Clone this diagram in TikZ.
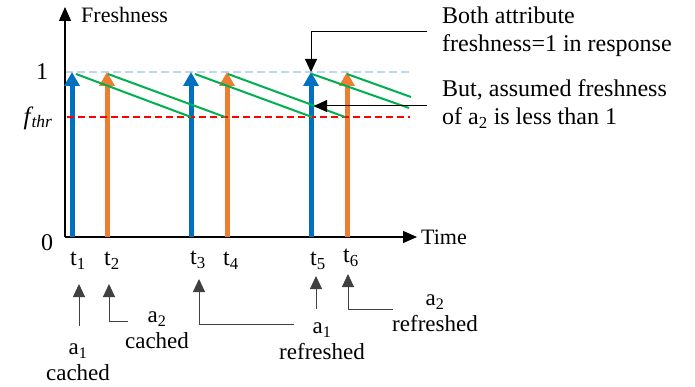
\documentclass[tikz,border=0pt]{standalone}
\usepackage{fontspec}
\setmainfont{Liberation Serif}
\usetikzlibrary{arrows.meta}
\definecolor{cblue}{HTML}{0070C0}
\definecolor{corange}{HTML}{ED7D31}
\definecolor{cgreen}{HTML}{00B050}
\definecolor{cred}{HTML}{FF0000}
\definecolor{clight}{HTML}{BDD7EE}
\definecolor{cgray}{HTML}{404040}
\tikzset{
  axisline/.style={line width=1.2pt,-{Triangle[length=14pt,width=12pt]}},
  barblue/.style={line width=5pt,cblue,-{Triangle[length=14pt,width=15pt]}},
  barorange/.style={line width=5pt,corange,-{Triangle[length=14pt,width=15pt]}},
  decay/.style={line width=2pt,cgreen},
  thr/.style={line width=2pt,cred,dash pattern=on 7pt off 4pt},
  top/.style={line width=2pt,clight,dash pattern=on 8pt off 4pt},
  callout/.style={line width=1pt,cgray,-{Triangle[length=13pt,width=12pt]}},
  ann/.style={line width=1pt,black,-{Triangle[length=13pt,width=12pt]}},
  lbl/.style={inner sep=0pt,align=center,font=\fontsize{23}{26}\selectfont},
  tl/.style={inner sep=0pt,font=\fontsize{24}{24}\selectfont},
  note/.style={inner sep=0pt,align=left,anchor=west,font=\fontsize{24}{28}\selectfont},
}
\begin{document}
\begin{tikzpicture}[x=1pt,y=-1pt,font=\fontsize{22}{24}\selectfont]
\useasboundingbox (0,0) rectangle (695,387);
% reference lines
\coordinate (tl) at (65,72); \coordinate (tr) at (409,72);
\draw[top] (tl) -- (tr);
% axes
\coordinate (O) at (65,237);
\coordinate (ytop) at (65,7);
\coordinate (xend) at (417,237);
\draw[axisline] (O) -- (ytop);
\draw[axisline] (O) -- (xend);
\node[anchor=west,inner sep=0pt] (ylab) at (81,15) {Freshness};
\node[anchor=west,inner sep=0pt] (xlab) at (421,237) {Time};
\node[inner sep=0pt,font=\fontsize{24}{24}\selectfont] (one) at (42,72) {1};
\node[inner sep=0pt,font=\fontsize{24}{24}\selectfont] (zero) at (47,243) {0};
\node[inner sep=0pt] (fthr) at (38,118) {\itshape\fontsize{25}{24}\selectfont f\kern1pt\textsubscript{thr}};
% bars
\foreach \n/\x in {b1/72,b3/191,b5/311}{
  \coordinate (\n bot) at (\x,237); \coordinate (\n) at (\x,72);
  \draw[barblue] (\n bot) -- (\n);
}
\foreach \n/\x in {b2/107,b4/227,b6/347}{
  \coordinate (\n bot) at (\x,237); \coordinate (\n) at (\x,72);
  \draw[barorange] (\n bot) -- (\n);
}
% threshold
\coordinate (rl) at (67,117); \coordinate (rr) at (410,117);
\draw[thr] (rl) -- (rr);
% decay lines
\coordinate (g1a) at (76,74);  \coordinate (g1b) at (191,117);
\coordinate (g2a) at (108,74); \coordinate (g2b) at (225,117);
\coordinate (g3a) at (195,74); \coordinate (g3b) at (312,117);
\coordinate (g4a) at (228,74); \coordinate (g4b) at (345,117);
\coordinate (g5a) at (312,74); \coordinate (g5b) at (409,108);
\coordinate (g6a) at (347,74); \coordinate (g6b) at (411,97);
\foreach \i in {1,...,6}{\draw[decay] (g\i a) -- (g\i b);}
% time labels
\node[tl] (t1) at (78,261) {t\textsubscript{1}};
\node[tl] (t2) at (112,261) {t\textsubscript{2}};
\node[tl] (t3) at (198,260) {t\textsubscript{3}};
\node[tl] (t4) at (231,261) {t\textsubscript{4}};
\node[tl] (t5) at (318,261) {t\textsubscript{5}};
\node[tl] (t6) at (351,258) {t\textsubscript{6}};
% right notes
\node[note] (n1) at (442,32) {Both attribute\\freshness=1 in response};
\node[note] (n2) at (442,104) {But, assumed freshness\\of a\textsubscript{2} is less than 1};
\coordinate (n1s) at (427,32);
\coordinate (n2s) at (427,106);
\coordinate (n2e) at (314,106);
\draw[ann] (n1s) -| (b5);
\draw[ann] (n2s) -- (n2e);
% bottom labels
\node[lbl] (c1) at (78,362) {a\textsubscript{1}\\cached};
\node[lbl] (c2) at (157,330) {a\textsubscript{2}\\cached};
\node[lbl] (r1) at (322,341) {a\textsubscript{1}\\refreshed};
\node[lbl] (r2) at (435,313) {a\textsubscript{2}\\refreshed};
\coordinate (c1s) at (79,326); \coordinate (c1t) at (79,284);
\coordinate (c2s) at (128,321); \coordinate (c2t) at (109,284);
\coordinate (r1s) at (294,324); \coordinate (r1t) at (199,279);
\coordinate (r5s) at (316,309); \coordinate (r5t) at (316,276);
\coordinate (r2s) at (393,309); \coordinate (r2t) at (348,274);
\draw[callout] (c1s) -- (c1t);
\draw[callout] (c2s) -| (c2t);
\draw[callout] (r1s) -| (r1t);
\draw[callout] (r5s) -- (r5t);
\draw[callout] (r2s) -| (r2t);
\end{tikzpicture}
\end{document}
